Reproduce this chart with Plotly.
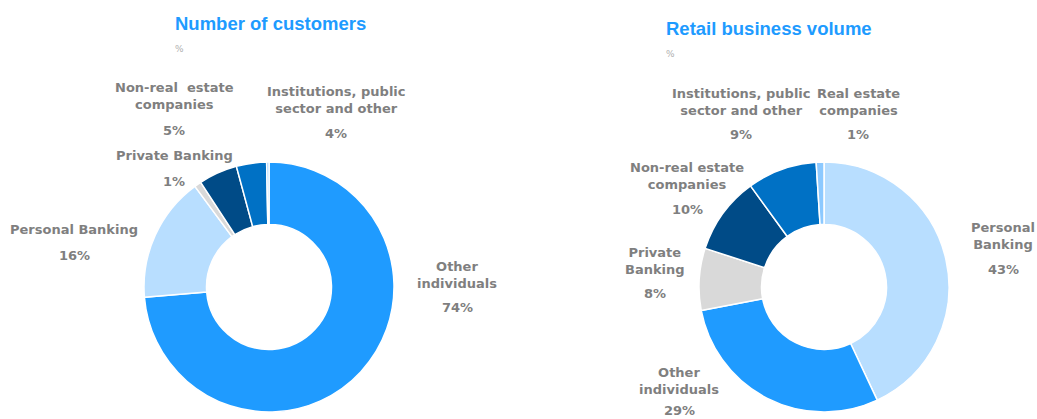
import plotly.graph_objects as go

W, H = 1037, 419

BLUE = "#1F9BFF"
LIGHT = "#B8DEFF"
GREY = "#D9D9D9"
NAVY = "#004B87"
MID = "#0071C5"
SKY = "#8CC9FF"
LABEL_INK = "#7F7F7F"
TITLE_INK = "#1E9BFF"

# --- data -----------------------------------------------------------------
cust_labels = ["Other<br>individuals", "Personal Banking", "Private Banking",
               "Non-real  estate<br>companies", "Institutions, public<br>sector and other",
               "Real estate companies"]
cust_values = [73.7, 16.2, 0.9, 5.0, 3.9, 0.3]
cust_colors = [BLUE, LIGHT, GREY, NAVY, MID, SKY]

vol_labels = ["Personal<br>Banking", "Other<br>individuals", "Private<br>Banking",
              "Non-real estate<br>companies", "Institutions, public<br>sector and other",
              "Real estate<br>companies"]
vol_values = [43, 29, 8, 10, 9, 1]
vol_colors = [LIGHT, BLUE, GREY, NAVY, MID, SKY]

titles = ["Number of customers", "Retail business volume"]

# label placement in px: (name centre x, name centre y, pct y); None = no label
cust_pos = [(457, 275, 307), (74, 230, 255), (174, 156, 181),
            (174, 96, 130), (336, 100, 133), None]
vol_pos = [(1003, 236, 269), (679, 381, 410), (655, 261, 293),
           (687, 176, 209), (741, 102, 135), (858, 102, 135)]


def px(x, y):
    return x / W, 1 - y / H


def donut(values, labels, colors, cx, cy, r):
    x0, y0 = px(cx - r, cy + r)
    x1, y1 = px(cx + r, cy - r)
    return go.Pie(
        values=values, labels=labels, sort=False, direction="clockwise",
        rotation=0, hole=0.5, textinfo="none", hoverinfo="label+percent",
        marker=dict(colors=colors, line=dict(color="white", width=1.5)),
        domain=dict(x=[x0, x1], y=[y0, y1]), showlegend=False,
    )


fig = go.Figure()
fig.add_trace(donut(cust_values, cust_labels, cust_colors, 269, 287, 125))
fig.add_trace(donut(vol_values, vol_labels, vol_colors, 824, 287, 125))

annots = []
lab_font = dict(family="DejaVu Sans", size=13, color=LABEL_INK, weight="bold")
for labels, values, pos in [(cust_labels, cust_values, cust_pos),
                            (vol_labels, vol_values, vol_pos)]:
    for lab, v, p in zip(labels, values, pos):
        if p is None:
            continue
        x, y = px(p[0], p[1])
        annots.append(dict(x=x, y=y, text=lab, showarrow=False, font=lab_font,
                           xref="paper", yref="paper", xanchor="center", yanchor="middle"))
        x, y = px(p[0], p[2])
        annots.append(dict(x=x, y=y, text=f"{round(v):d}%", showarrow=False, font=lab_font,
                           xref="paper", yref="paper", xanchor="center", yanchor="middle"))

for t, (tx, ty, py_) in zip(titles, [(173, 24, 49), (664, 28, 54)]):
    x, y = px(tx, ty)
    annots.append(dict(x=x, y=y, text=t, showarrow=False, xref="paper", yref="paper",
                       xanchor="left", yanchor="middle",
                       font=dict(family="Liberation Sans", size=18.5, color=TITLE_INK,
                                 weight="bold")))
    x, y = px(tx, py_)
    annots.append(dict(x=x, y=y, text="%", showarrow=False, xref="paper", yref="paper",
                       xanchor="left", yanchor="middle",
                       font=dict(family="DejaVu Sans", size=9, color="#B0B0B0")))

fig.update_layout(
    width=W, height=H, margin=dict(l=0, r=0, t=0, b=0),
    paper_bgcolor="white", plot_bgcolor="white", annotations=annots,
)
# page body has an 8px default margin; drop it so the figure fills the window
fig.write_html("out.html", config={"displayModeBar": False},
               post_script="document.body.style.margin='0';")
